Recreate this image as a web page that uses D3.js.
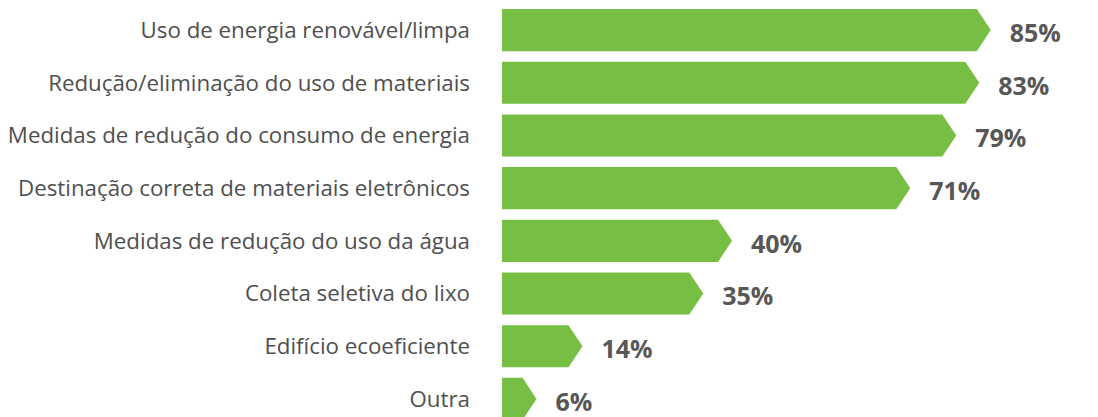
<!DOCTYPE html>
<html>
<head>
<meta charset="utf-8">
<script src="https://cdn.jsdelivr.net/npm/d3@7"></script>
<style>
  body { margin: 0; background: #fff; }
  svg { display: block; }
</style>
</head>
<body>
<div id="chart"></div>
<script>
// data
var categories = [
  "Uso de energia renovável/limpa",
  "Redução/eliminação do uso de materiais",
  "Medidas de redução do consumo de energia",
  "Destinação correta de materiais eletrônicos",
  "Medidas de redução do uso da água",
  "Coleta seletiva do lixo",
  "Edifício ecoeficiente",
  "Outra"
];
var values = [85, 83, 79, 71, 40, 35, 14, 6];

var width = 1098, height = 417;
var barLeft = 502;
var arrow = 14;

var svg = d3.select("#chart")
  .append("svg")
    .attr("width", width)
    .attr("height", height);

// scales
var x = d3.scaleLinear()
  .domain([0, 100])
  .range([barLeft, barLeft + 575]);

var y = d3.scaleBand()
  .domain(categories)
  .range([9, 420])
  .paddingInner(0.2)
  .paddingOuter(0);

var data = categories.map(function(c, i) { return { cat: c, val: values[i] }; });

// arrow-shaped bars
svg.append("g")
  .selectAll("path")
  .data(data)
  .enter().append("path")
    .attr("fill", "#76bf44")
    .attr("d", function(d) {
      var x0 = x(0), x1 = x(d.val), y0 = y(d.cat), h = y.bandwidth();
      var s = Math.max(x0, x1 - arrow);
      return "M" + x0 + "," + y0 +
             "L" + s + "," + y0 +
             "L" + x1 + "," + (y0 + h / 2) +
             "L" + s + "," + (y0 + h) +
             "L" + x0 + "," + (y0 + h) + "Z";
    });

// category labels
svg.append("g")
  .selectAll("text")
  .data(data)
  .enter().append("text")
    .attr("x", 470)
    .attr("y", function(d) { return y(d.cat) + y.bandwidth() / 2; })
    .attr("dy", "0.35em")
    .attr("text-anchor", "end")
    .attr("font-family", "'Open Sans', sans-serif")
    .attr("font-size", 22.3)
    .attr("fill", "#4f4f4f")
    .text(function(d) { return d.cat; });

// value labels
svg.append("g")
  .selectAll("text")
  .data(data)
  .enter().append("text")
    .attr("x", function(d) { return x(d.val) + 19; })
    .attr("y", function(d) { return y(d.cat) + y.bandwidth() / 2 + 3; })
    .attr("dy", "0.35em")
    .attr("font-family", "'Open Sans', sans-serif")
    .attr("font-weight", "bold")
    .attr("font-size", 25)
    .attr("fill", "#575757")
    .text(function(d) { return d.val + "%"; });
</script>
</body>
</html>
